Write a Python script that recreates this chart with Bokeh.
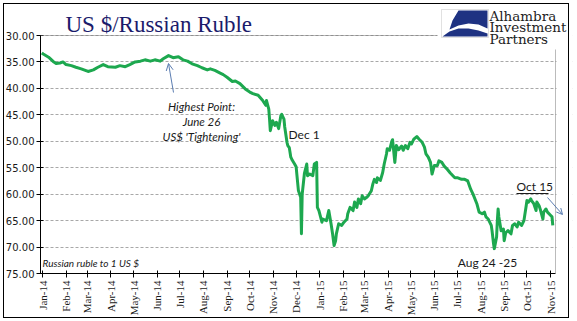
import math
import datetime as dt
from bokeh.plotting import figure
from bokeh.models import (Range1d, FixedTicker, Label, Arrow, OpenHead, InlineStyleSheet,
                          BoxAnnotation, PolyAnnotation, PrintfTickFormatter)
from bokeh.embed import file_html
from bokeh.resources import INLINE

# ---------------- data ----------------
dates = [
    "2013-12-31", "2014-01-02", "2014-01-09", "2014-01-15", "2014-01-19", "2014-01-24",
    "2014-01-28", "2014-02-01", "2014-02-08", "2014-02-14", "2014-02-21", "2014-03-02",
    "2014-03-09", "2014-03-15", "2014-03-22", "2014-03-28", "2014-04-07", "2014-04-13",
    "2014-04-20", "2014-04-26", "2014-05-03", "2014-05-10", "2014-05-16", "2014-05-23",
    "2014-05-29", "2014-06-05", "2014-06-09", "2014-06-16", "2014-06-22", "2014-06-29",
    "2014-07-05", "2014-07-11", "2014-07-17", "2014-07-24", "2014-07-30", "2014-08-06",
    "2014-08-10", "2014-08-16", "2014-08-23", "2014-08-27", "2014-09-01", "2014-09-08",
    "2014-09-12", "2014-09-18", "2014-09-25", "2014-10-01", "2014-10-05", "2014-10-12",
    "2014-10-18", "2014-10-22", "2014-10-23", "2014-10-26", "2014-10-27", "2014-10-28",
    "2014-10-31", "2014-11-03", "2014-11-05", "2014-11-08", "2014-11-11", "2014-11-12",
    "2014-11-15", "2014-11-16", "2014-11-19", "2014-11-20", "2014-11-22", "2014-11-24",
    "2014-11-26", "2014-11-29", "2014-12-01", "2014-12-03", "2014-12-04", "2014-12-07",
    "2014-12-08", "2014-12-09", "2014-12-12", "2014-12-15", "2014-12-16", "2014-12-19",
    "2014-12-23", "2014-12-25", "2014-12-28", "2014-12-29", "2014-12-31", "2015-01-04",
    "2015-01-05", "2015-01-10", "2015-01-13", "2015-01-16", "2015-01-18", "2015-01-20",
    "2015-01-22", "2015-01-23", "2015-01-26", "2015-01-30", "2015-02-02", "2015-02-06",
    "2015-02-07", "2015-02-10", "2015-02-14", "2015-02-16", "2015-02-19", "2015-02-21",
    "2015-02-24", "2015-02-26", "2015-03-01", "2015-03-04", "2015-03-06", "2015-03-09",
    "2015-03-10", "2015-03-12", "2015-03-14", "2015-03-17", "2015-03-18", "2015-03-22",
    "2015-03-25", "2015-03-27", "2015-03-30", "2015-03-31", "2015-04-03", "2015-04-06",
    "2015-04-07", "2015-04-10", "2015-04-12", "2015-04-15", "2015-04-19", "2015-04-21",
    "2015-04-24", "2015-04-27", "2015-04-30", "2015-05-02", "2015-05-05", "2015-05-09",
    "2015-05-12", "2015-05-16", "2015-05-19", "2015-05-21", "2015-05-24", "2015-05-27",
    "2015-05-29", "2015-06-01", "2015-06-05", "2015-06-07", "2015-06-11", "2015-06-14",
    "2015-06-18", "2015-06-22", "2015-06-28", "2015-07-02", "2015-07-07", "2015-07-11",
    "2015-07-15", "2015-07-19", "2015-07-22", "2015-07-27", "2015-07-30", "2015-08-03",
    "2015-08-06", "2015-08-08", "2015-08-11", "2015-08-15", "2015-08-16", "2015-08-18",
    "2015-08-19", "2015-08-22", "2015-08-23", "2015-08-24", "2015-08-25", "2015-08-28",
    "2015-08-31", "2015-09-01", "2015-09-03", "2015-09-06", "2015-09-10", "2015-09-12",
    "2015-09-15", "2015-09-18", "2015-09-20", "2015-09-24", "2015-09-27", "2015-09-30",
    "2015-10-01", "2015-10-03", "2015-10-06", "2015-10-07", "2015-10-10", "2015-10-13",
    "2015-10-14", "2015-10-17", "2015-10-19", "2015-10-22", "2015-10-23", "2015-10-26",
    "2015-10-28", "2015-11-01", "2015-11-03", "2015-11-04",
]
rub = [
    33.3, 33.5, 34.1, 34.9, 35.3, 35.2,
    35.0, 35.5, 35.7, 36.0, 36.3, 36.8,
    36.5, 36.0, 35.5, 35.9, 36.0, 35.7,
    35.9, 35.5, 35.0, 34.85, 34.6, 34.85,
    34.6, 34.85, 34.4, 33.8, 34.2, 34.0,
    34.6, 34.85, 35.35, 35.7, 36.1, 36.5,
    36.3, 36.6, 37.1, 37.4, 37.9, 38.7,
    38.6, 39.1, 40.1, 40.7, 41.0, 41.3,
    42.3, 43.2, 42.3, 43.9, 45.8, 48.0,
    46.1, 47.0, 46.4, 47.6, 45.1, 44.9,
    45.8, 47.3, 50.2, 50.8, 51.2, 53.0,
    53.6, 54.3, 54.8, 57.8, 59.3, 60.6,
    67.5, 60.0, 56.0, 54.3, 56.5, 56.2,
    56.5, 54.3, 54.0, 62.5, 63.1, 65.3,
    64.7, 65.0, 63.1, 65.6, 67.5, 69.7,
    68.8, 67.5, 65.6, 65.9, 65.3, 64.7,
    63.7, 62.5, 63.1, 61.5, 62.5, 60.9,
    61.8, 60.3, 60.9, 60.6, 60.3, 59.6,
    59.4, 58.1, 57.2, 57.8, 56.9, 57.4,
    55.9, 54.3, 52.4, 51.4, 51.7, 50.0,
    49.7, 54.0, 50.8, 51.6, 50.9, 51.7,
    50.8, 51.4, 50.2, 50.5, 49.6, 49.1,
    49.6, 50.2, 51.1, 52.4, 53.0, 54.0,
    56.2, 54.6, 54.6, 53.7, 54.0, 54.7,
    55.3, 56.0, 56.9, 56.9, 57.2, 57.2,
    57.5, 59.1, 60.0, 61.8, 63.4, 63.7,
    63.4, 64.3, 64.7, 65.9, 66.9, 69.4,
    70.3, 68.1, 65.0, 62.8, 64.3, 66.9,
    66.6, 68.8, 67.3, 66.9, 67.5, 65.9,
    65.6, 66.2, 65.3, 65.9, 65.0, 62.2,
    61.2, 61.5, 60.9, 61.2, 61.8, 63.1,
    61.5, 62.2, 63.1, 64.7, 63.4, 62.8,
    63.4, 64.0, 64.3, 65.9,
]
month_ticks = [
    "2014-01-01", "2014-02-01", "2014-03-01", "2014-04-01", "2014-05-01", "2014-06-01",
    "2014-07-01", "2014-08-01", "2014-09-01", "2014-10-01", "2014-11-01", "2014-12-01",
    "2015-01-01", "2015-02-01", "2015-03-01", "2015-04-01", "2015-05-01", "2015-06-01",
    "2015-07-01", "2015-08-01", "2015-09-01", "2015-10-01", "2015-11-01",
]
month_labels = [
    "Jan-14", "Feb-14", "Mar-14", "Apr-14", "May-14", "Jun-14", "Jul-14", "Aug-14",
    "Sep-14", "Oct-14", "Nov-14", "Dec-14", "Jan-15", "Feb-15", "Mar-15", "Apr-15",
    "May-15", "Jun-15", "Jul-15", "Aug-15", "Sep-15", "Oct-15", "Nov-15",
]
y_ticks = [30, 35, 40, 45, 50, 55, 60, 65, 70, 75]

title_text = "US $/Russian Ruble"
series_note = "Russian ruble to 1 US $"
logo_lines = ["Alhambra", "Investment", "Partners"]
peak_note = ["Highest Point:", "June 26", "US$ 'Tightening'"]

# ---------------- helpers ----------------
EPOCH = dt.datetime(1970, 1, 1)


def ts(s):
    return dt.datetime.strptime(s, "%Y-%m-%d")


def ms(d):
    return (d - EPOCH).total_seconds() * 1000.0


W, H = 577, 321
FL, FR, FT, FB = 40, 572, 2, 273      # drawing frame in window pixels
PX_DAY = 508.0 / 669.0                # pixels per day on the time axis
PX_UNIT = 238.0 / 45.0                # pixels per ruble on the value axis
X0 = dt.datetime(2014, 1, 1)          # sits at window x = 42


def sx(x):  # window pixel -> frame-relative screen x
    return x - FL


def sy(y):  # window pixel -> frame-relative screen y (upward)
    return FB - y


x_start = X0 + dt.timedelta(days=(FL - 42) / PX_DAY)
x_frame_end = X0 + dt.timedelta(days=(FR - 42) / PX_DAY)
x_end = X0 + dt.timedelta(days=(555 - 42) / PX_DAY)      # plot-area right edge
y_top = 75 - (FB - FT) / PX_UNIT

p = figure(width=W, height=H, output_backend="svg", toolbar_location=None,
           x_axis_type="datetime",
           x_range=Range1d(x_start, x_frame_end), y_range=Range1d(75, y_top))
p.min_border_left = FL
p.min_border_right = W - FR
p.min_border_top = FT
p.min_border_bottom = H - FB
p.outline_line_color = None
p.background_fill_color = "white"
p.border_fill_color = "white"

# thin black frame round the whole picture
p.stylesheets = [InlineStyleSheet(css="""
:host { position: relative; }
:host::after {
  content: ""; position: absolute; left: 3px; top: 3px;
  width: 564px; height: 313px; border: 1px solid #000;
  pointer-events: none; z-index: 10; box-sizing: content-box;
}
""")]

# grid
p.xgrid.visible = False
p.ygrid.grid_line_color = "#A8A8A8"
p.ygrid.grid_line_dash = "3 2"
p.ygrid.grid_line_width = 1

# y axis
p.yaxis.ticker = FixedTicker(ticks=y_ticks)
p.yaxis.bounds = (30, 75)
p.yaxis.formatter = PrintfTickFormatter(format="%.2f")
p.yaxis.axis_line_color = "black"
p.yaxis.major_tick_line_color = "black"
p.yaxis.major_tick_in = 3
p.yaxis.major_tick_out = 4
p.yaxis.minor_tick_line_color = None
p.yaxis.major_label_text_font = "DejaVu Sans"
p.yaxis.major_label_text_font_size = "10px"
p.yaxis.major_label_text_color = "#1a1a1a"
p.yaxis.major_label_standoff = 2

# x axis
tick_ms = [ms(ts(m)) for m in month_ticks]
p.xaxis.ticker = FixedTicker(ticks=tick_ms)
p.xaxis.bounds = (ms(x_start), ms(x_end))
p.xaxis.major_label_overrides = {t: lab for t, lab in zip(tick_ms, month_labels)}
p.xaxis.major_label_orientation = math.pi / 2
p.xaxis.axis_line_color = "black"
p.xaxis.major_tick_line_color = "black"
p.xaxis.major_tick_in = 3
p.xaxis.major_tick_out = 4
p.xaxis.minor_tick_line_color = None
p.xaxis.major_label_text_font = "Liberation Serif"
p.xaxis.major_label_text_font_size = "11px"
p.xaxis.major_label_text_color = "#1a1a1a"
p.xaxis.major_label_standoff = 3

# series
p.line(x=[ts(d) for d in dates], y=rub, line_color="#1DA84F", line_width=3,
       line_join="round")


def screen_box(l, r, t, b, **kw):
    return BoxAnnotation(left=sx(l), right=sx(r), top=sy(t), bottom=sy(b),
                         left_units="screen", right_units="screen",
                         top_units="screen", bottom_units="screen", **kw)


# white area right of the plot area (hides grid ends)
p.add_layout(screen_box(556, 580, 30, 274, fill_color="white", fill_alpha=1.0, line_color=None))

# plot-area border: top and right edges (gray)
p.add_layout(PolyAnnotation(xs=[ms(x_start), ms(x_end), ms(x_end), ms(x_end)],
                            ys=[30, 30, 75, 30],
                            fill_alpha=0.0, line_color="#7A7A7A", line_width=1))

# white area behind the logo
p.add_layout(screen_box(437, 580, 0, 49, fill_color="white", fill_alpha=1.0, line_color=None))

# logo mark
p.add_layout(PolyAnnotation(xs=[sx(441), sx(488), sx(488), sx(441)],
                            ys=[sy(9), sy(9), sy(37), sy(37)],
                            xs_units="screen", ys_units="screen",
                            fill_color="white", fill_alpha=1.0,
                            line_color="#9A9A9A", line_width=1))
up_x = [458, 487, 487, 478, 468, 458, 449, 452]
up_y = [10, 10, 28, 24, 23, 25, 29, 20]
p.add_layout(PolyAnnotation(xs=[sx(v) for v in up_x], ys=[sy(v) for v in up_y],
                            xs_units="screen", ys_units="screen",
                            fill_color="#1E3282", fill_alpha=1.0, line_color=None))
lo_x = [442, 449, 458, 468, 478, 487, 487]
lo_y = [36, 31, 28, 28, 30, 33, 36]
p.add_layout(PolyAnnotation(xs=[sx(v) for v in lo_x], ys=[sy(v) for v in lo_y],
                            xs_units="screen", ys_units="screen",
                            fill_color="#1E3282", fill_alpha=1.0, line_color=None))
for i, t in enumerate(logo_lines):
    p.add_layout(Label(x=sx(489), y=sy(15 + 11.5 * i), x_units="screen", y_units="screen",
                       text=t, text_font="DejaVu Serif", text_font_size="13.5px",
                       text_color="#222222", text_baseline="middle", text_align="left"))

# title
p.add_layout(Label(x=sx(65), y=sy(24), x_units="screen", y_units="screen",
                   text=title_text, text_font="Liberation Serif", text_font_size="23px",
                   text_color="#1B1B6B", text_baseline="middle", text_align="left"))

# notes
for i, t in enumerate(peak_note):
    p.add_layout(Label(x=sx(201), y=sy(106 + 15 * i), x_units="screen", y_units="screen",
                       text=t, text_font="Lato", text_font_style="italic",
                       text_font_size="11.5px", text_color="#1a1a1a",
                       text_baseline="middle", text_align="center"))
p.add_layout(Arrow(x_start=sx(173), y_start=sy(92), x_end=sx(168), y_end=sy(63),
                   start_units="screen", end_units="screen",
                   line_color="#5B7DB1", line_width=1,
                   end=OpenHead(size=7, line_color="#5B7DB1", line_width=1)))

p.add_layout(Label(x=sx(288), y=sy(134), x_units="screen", y_units="screen",
                   text="Dec 1", text_font="Lato", text_font_size="12px",
                   text_color="#1a1a1a", text_baseline="middle", text_align="left"))
p.add_layout(Label(x=sx(487), y=sy(262), x_units="screen", y_units="screen",
                   text="Aug 24 -25", text_font="Lato", text_font_size="12px",
                   text_color="#1a1a1a", text_baseline="middle", text_align="center"))
p.add_layout(Label(x=sx(516), y=sy(186), x_units="screen", y_units="screen",
                   text="Oct 15", text_font="Lato", text_font_size="12px",
                   text_color="#1a1a1a", text_baseline="middle", text_align="left"))
p.add_layout(Arrow(x_start=sx(516), y_start=sy(193), x_end=sx(548), y_end=sy(193),
                   start_units="screen", end_units="screen", end=None,
                   line_color="#1a1a1a", line_width=1))
p.add_layout(Arrow(x_start=sx(547), y_start=sy(197), x_end=sx(562), y_end=sy(214),
                   start_units="screen", end_units="screen",
                   line_color="#5B7DB1", line_width=1,
                   end=OpenHead(size=6, line_color="#5B7DB1", line_width=1)))
p.add_layout(Label(x=sx(42), y=sy(262), x_units="screen", y_units="screen",
                   text=series_note, text_font="Lato", text_font_style="italic",
                   text_font_size="10px", text_color="#1a1a1a",
                   text_baseline="middle", text_align="left"))

open("out.html", "w").write(file_html(p, INLINE))
